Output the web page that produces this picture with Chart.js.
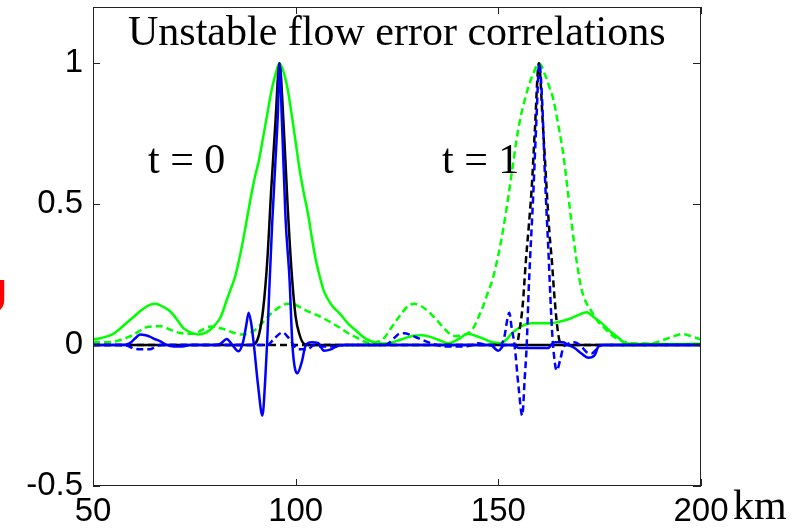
<!DOCTYPE html>
<html>
<head>
<meta charset="utf-8">
<script src="https://cdn.jsdelivr.net/npm/chart.js@4"></script>
<style>
  body{margin:0;background:#fff;}
  #wrap{width:800px;height:528px;}
</style>
</head>
<body>
<div id="wrap"><canvas id="corr-chart" width="800" height="528"></canvas></div>
<script>
// axes
const xTicks=[50,100,150,200];
const yTicks=[-0.5,0,0.5,1];

// t = 0 curves (solid), [km, correlation]
const greenSolid=[[50,0.02],[52,0.025],[55,0.04],[58,0.075],[60,0.1],[62,0.125],[64,0.143],[65.5,0.147],[67,0.138],[69,0.12],[70.5,0.095],[72.3,0.06],[74,0.045],[76,0.038],[78,0.045],[80,0.07],[81.5,0.1],[83,0.16],[84,0.2],[85,0.24],[86,0.3],[87,0.37],[88,0.45],[89,0.53],[90,0.6],[91,0.66],[92,0.74],[93,0.82],[94,0.9],[95,0.96],[96,1.0],[97,0.97],[98,0.91],[99,0.82],[100,0.72],[101,0.62],[102,0.54],[103,0.47],[104,0.38],[105,0.3],[106,0.24],[107,0.19],[109,0.14],[111,0.11],[113,0.075],[115,0.05],[117,0.025],[119,0.012],[121,0.006],[123,0.007],[125,0.015],[127,0.025],[129,0.033],[131,0.035],[133,0.03],[135,0.02],[137.5,0.007],[140,0.02],[142.5,0.04],[144,0.035],[146,0.025],[148.5,0.01],[150.5,0.007],[152,0.02],[153.2,0.04],[154.5,0.055],[155.7,0.067],[157,0.075],[158.2,0.078],[160,0.078],[163,0.078],[165,0.083],[167.3,0.092],[169.5,0.105],[171.8,0.117],[173.5,0.1],[175.5,0.078],[177.5,0.05],[179.7,0.025],[181.2,0.007],[185,0.004],[190,0.004],[195,0.004],[200,0.005]];
const blackSolid=[[50,0],[89,0],[90,0.005],[91,0.04],[92,0.13],[93,0.3],[94,0.56],[95,0.79],[96,1.0],[97,0.79],[98,0.5],[99,0.26],[100,0.1],[101,0.035],[102,0.005],[103,0],[200,0]];
const blueSolid=[[50,0],[57,0],[59,0.006],[60.5,0.025],[61.6,0.038],[63,0.035],[64,0.03],[65.5,0.02],[66.5,0.014],[68,0.002],[70,-0.005],[72,-0.005],[74,0],[80,0],[81.5,0.005],[83,0.022],[84.3,0.002],[85.9,-0.022],[87,0.01],[87.8,0.07],[88.4,0.115],[89,0.08],[89.7,0.0],[90.7,-0.14],[91.8,-0.25],[92.5,-0.12],[93,0.02],[93.5,0.2],[94.2,0.43],[95,0.65],[95.6,0.82],[96,1.0],[96.6,0.8],[97.5,0.45],[98.5,0.23],[99.2,0.0],[100.4,-0.1],[101.5,-0.06],[102.5,0.0],[104,0.01],[105.5,0.008],[107,-0.02],[108.7,-0.015],[110,-0.005],[112,0],[148,0],[150,-0.02],[151.5,0],[154,0],[155,-0.01],[157.4,-0.01],[162.3,-0.01],[163.3,0.005],[164,0.01],[166,0.01],[167.3,0],[168.8,-0.01],[170.5,-0.03],[172.2,-0.045],[173.8,-0.035],[174.7,-0.005],[176,0],[200,0]];

// t = 1 curves (dashed)
const greenDashed=[[50,0.01],[55,0.012],[58,0.025],[60,0.037],[62,0.055],[63.6,0.065],[66.6,0.067],[69,0.055],[71.5,0.043],[74.8,0.04],[77,0.055],[79,0.066],[82.2,0.057],[84.5,0.045],[86.4,0.038],[88,0.04],[89.6,0.05],[91.5,0.075],[93.8,0.11],[96,0.135],[98,0.147],[99.5,0.146],[101,0.135],[103,0.12],[105,0.108],[106.9,0.095],[109,0.078],[111.1,0.06],[113,0.042],[115.3,0.025],[117,0.012],[118.6,0.007],[120.3,0.012],[121.8,0.025],[123.5,0.06],[126,0.11],[127.7,0.138],[129.2,0.147],[131,0.138],[132.7,0.12],[134.7,0.09],[136.6,0.06],[138,0.04],[139.5,0.032],[141,0.035],[142.6,0.043],[144,0.065],[145,0.096],[146.3,0.14],[147.5,0.19],[148.5,0.23],[150,0.32],[151.3,0.42],[152.5,0.53],[153.5,0.63],[154.5,0.73],[155.5,0.81],[156.5,0.87],[157.5,0.92],[158.5,0.96],[160.1,1.0],[161.5,0.96],[162.5,0.92],[163.6,0.87],[164.8,0.78],[166.1,0.67],[167.1,0.55],[168.1,0.43],[169.3,0.3],[170.5,0.2],[171.7,0.15],[173,0.12],[174.5,0.085],[176.2,0.06],[178,0.035],[179.7,0.02],[181.5,0.01],[183,0.007],[186,0.006],[188,0.007],[190,0.015],[192,0.025],[194,0.035],[195.3,0.039],[196.5,0.037],[197.8,0.03],[200,0.02]];
const blackDashed=[[50,0],[154.5,0],[155.2,0.05],[156,0.14],[156.8,0.3],[157.5,0.42],[158.2,0.55],[159,0.76],[160,1.0],[161,0.78],[161.9,0.56],[162.6,0.4],[163.2,0.3],[163.8,0.18],[164.5,0.07],[165.2,0.01],[166,0],[200,0]];
const blueDashed=[[50,0],[58,0],[60,-0.012],[62,-0.015],[64,-0.015],[65.5,-0.005],[67,0],[93,0],[94.5,0.02],[96.8,0.045],[98,0.03],[99.5,0],[100.5,-0.015],[103,-0.015],[104.5,0],[106,-0.005],[110,-0.005],[112,0],[122,0],[124.3,0.025],[125.5,0.04],[126.7,0.042],[128.5,0.035],[130.2,0.025],[133.4,0.007],[135,0],[136.6,-0.005],[141.6,-0.005],[143.5,0],[145,0.007],[147.5,0],[150.5,0],[151.5,0.03],[152.2,0.09],[152.7,0.115],[153.3,0.06],[154,0.0],[155,-0.15],[155.9,-0.25],[156.5,-0.12],[157,0.0],[157.5,0.2],[158.6,0.53],[159.4,0.8],[160.1,1.0],[160.8,0.87],[161.5,0.6],[162.4,0.32],[163,0.12],[163.5,0.0],[164.4,-0.09],[165.3,-0.05],[166,-0.01],[167.3,0.005],[168.8,0.01],[170.5,-0.005],[171.8,-0.025],[173,-0.03],[174.2,-0.015],[175.5,0],[200,0]];

const toXY=(arr)=>arr.map(p=>({x:p[0],y:p[1]}));
const DASH=[7,4];

function line(data,color,dashed){
  return {
    data:toXY(data),
    borderColor:color,
    borderWidth:2.5,
    borderDash:dashed?DASH:[],
    pointRadius:0,
    fill:false,
    cubicInterpolationMode:'monotone'
  };
}

// frame with inward ticks on all four sides
const frameBox={
  id:'frameBox',
  afterDatasetsDraw(chart){
    const {ctx,chartArea:{top,bottom,left,right},scales:{x,y}}=chart;
    ctx.save();
    ctx.strokeStyle='#222';
    ctx.lineWidth=1;
    ctx.strokeRect(left+0.5,top+0.5,right-left-1,bottom-top-1);
    ctx.beginPath();
    xTicks.forEach(v=>{
      const px=Math.round(x.getPixelForValue(v))+0.5;
      ctx.moveTo(px,bottom);ctx.lineTo(px,bottom-7);
      ctx.moveTo(px,top);ctx.lineTo(px,top+7);
    });
    yTicks.forEach(v=>{
      const py=Math.round(y.getPixelForValue(v))+0.5;
      ctx.moveTo(left,py);ctx.lineTo(left+7,py);
      ctx.moveTo(right,py);ctx.lineTo(right-8,py);
    });
    ctx.stroke();
    ctx.restore();
  }
};

// title, time labels, unit and the clipped red glyph at the left edge
const labels={
  id:'labels',
  afterDraw(chart){
    const ctx=chart.ctx;
    ctx.save();
    ctx.fillStyle='#000';
    ctx.textBaseline='alphabetic';
    ctx.textAlign='left';
    ctx.font='42px "Liberation Serif"';
    ctx.fillText('Unstable flow error correlations',128,45);
    ctx.fillText('t = 0',148,173);
    ctx.fillText('t = 1',442,173);
    ctx.fillText('km',733,519);
    ctx.fillStyle='#ff0000';
    ctx.textAlign='right';
    ctx.font='48px "Liberation Sans"';
    ctx.fillText('U',8,313);
    ctx.restore();
  }
};

let corrCanvas=document.getElementById('corr-chart').getContext('2d');
let corrConfig={
  type:'line',
  data:{
    datasets:[
      line(blueSolid,'#0000ff',false),
      line(blueDashed,'#0000ff',true),
      line(blackSolid,'#000000',false),
      line(blackDashed,'#000000',true),
      line(greenSolid,'#00ff00',false),
      line(greenDashed,'#00ff00',true)
    ]
  },
  options:{
    responsive:false,
    animation:false,
    devicePixelRatio:1,
    layout:{padding:{left:0,top:7,right:99,bottom:0}},
    scales:{
      x:{
        type:'linear',
        min:50,max:200,
        afterBuildTicks:(s)=>{s.ticks=xTicks.map(v=>({value:v}));},
        afterFit:(s)=>{s.height=42;s.paddingLeft=0;s.paddingRight=0;},
        grid:{display:false,drawTicks:false},
        border:{display:false},
        ticks:{color:'#000',padding:6,font:{family:'"Liberation Sans"',size:33},maxRotation:0}
      },
      y:{
        min:-0.5,max:1.2,
        afterBuildTicks:(s)=>{s.ticks=yTicks.map(v=>({value:v}));},
        afterFit:(s)=>{s.width=93;s.paddingTop=0;s.paddingBottom=0;},
        grid:{display:false,drawTicks:false},
        border:{display:false},
        ticks:{color:'#000',padding:10,font:{family:'"Liberation Sans"',size:33},
          callback:(v)=>String(v)}
      }
    },
    plugins:{
      legend:{display:false},
      tooltip:{enabled:false},
      title:{display:false}
    }
  },
  plugins:[frameBox,labels]
};
let corrChart=new Chart(corrCanvas,corrConfig);
</script>
</body>
</html>
